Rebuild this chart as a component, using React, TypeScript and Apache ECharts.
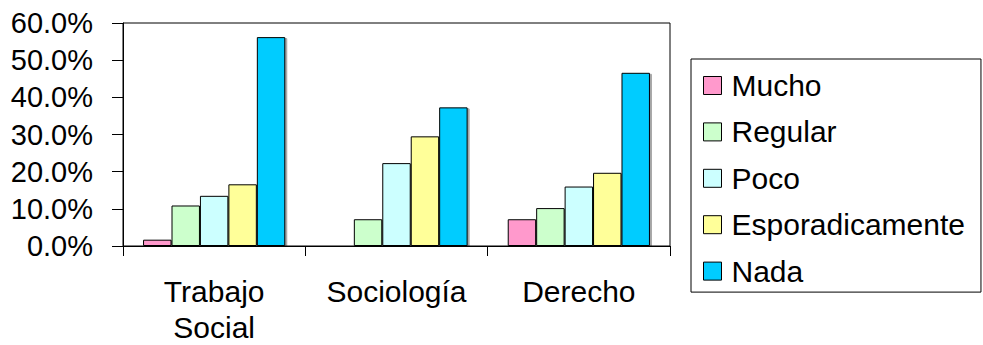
import React, { useEffect, useRef } from "react";
import * as echarts from "echarts";

const categories = ["Trabajo\nSocial", "Sociología", "Derecho"];
const seriesNames = ["Mucho", "Regular", "Poco", "Esporadicamente", "Nada"];
const mucho = [1.7, 0, 7.2];
const regular = [10.9, 7.2, 10.2];
const poco = [13.5, 22.3, 16.0];
const esporadicamente = [16.6, 29.5, 19.7];
const nada = [56.2, 37.3, 46.6];
const seriesValues = [mucho, regular, poco, esporadicamente, nada];
const colors = ["#FF99CC", "#CCFFCC", "#CCFFFF", "#FFFF99", "#00CCFF"];

const FONT = "'Liberation Sans', Arial, sans-serif";

export default function App() {
  const ref = useRef<HTMLDivElement>(null);
  useEffect(() => {
    if (!ref.current) return;
    const chart = echarts.init(ref.current, undefined, { renderer: "svg" });
    chart.setOption({
      animation: false,
      backgroundColor: "#fff",
      textStyle: { fontFamily: FONT, color: "#000" },
      grid: {
        left: 123,
        right: 313,
        top: 23,
        bottom: 98,
        show: true,
        borderColor: "#000",
        borderWidth: 1,
        backgroundColor: "transparent",
      },
      legend: {
        orient: "vertical",
        left: 691,
        top: 59,
        padding: [11.5, 16, 6, 12],
        borderColor: "#000",
        borderWidth: 1,
        itemWidth: 18,
        itemHeight: 18,
        itemGap: 16.4,
        icon: "rect",
        data: seriesNames,
        textStyle: { fontFamily: FONT, fontSize: 30, color: "#000", lineHeight: 30, padding: [0, 0, 0, 5] },
        itemStyle: { borderColor: "#000", borderWidth: 1 },
      },
      xAxis: {
        type: "category",
        data: categories,
        axisLine: { lineStyle: { color: "#000", width: 1 } },
        axisTick: { show: true, length: 10, lineStyle: { color: "#000" } },
        axisLabel: {
          fontFamily: FONT,
          fontSize: 30,
          color: "#000",
          margin: 27,
          lineHeight: 36,
          interval: 0,
        },
        splitLine: { show: false },
      },
      yAxis: {
        type: "value",
        min: 0,
        max: 60,
        interval: 10,
        axisLine: { show: true, lineStyle: { color: "#000", width: 1 } },
        axisTick: { show: true, length: 11, lineStyle: { color: "#000" } },
        axisLabel: {
          fontFamily: FONT,
          fontSize: 29,
          color: "#000",
          margin: 30,
          formatter: (v: number) => v.toFixed(1) + "%",
        },
        splitLine: { show: false },
      },
      series: seriesNames.map((name, i) => ({
        name,
        type: "bar",
        data: seriesValues[i],
        barGap: "0%",
        barCategoryGap: "22%",
        itemStyle: {
          color: colors[i],
          borderColor: "#000",
          borderWidth: 1,
          shadowColor: "rgba(0,0,0,0.35)",
          shadowOffsetX: 2,
          shadowOffsetY: 1,
          shadowBlur: 0,
        },
      })),
    });
    return () => chart.dispose();
  }, []);
  return <div ref={ref} style={{ width: 983, height: 345, position: "absolute", left: 0, top: 0 }} />;
}
